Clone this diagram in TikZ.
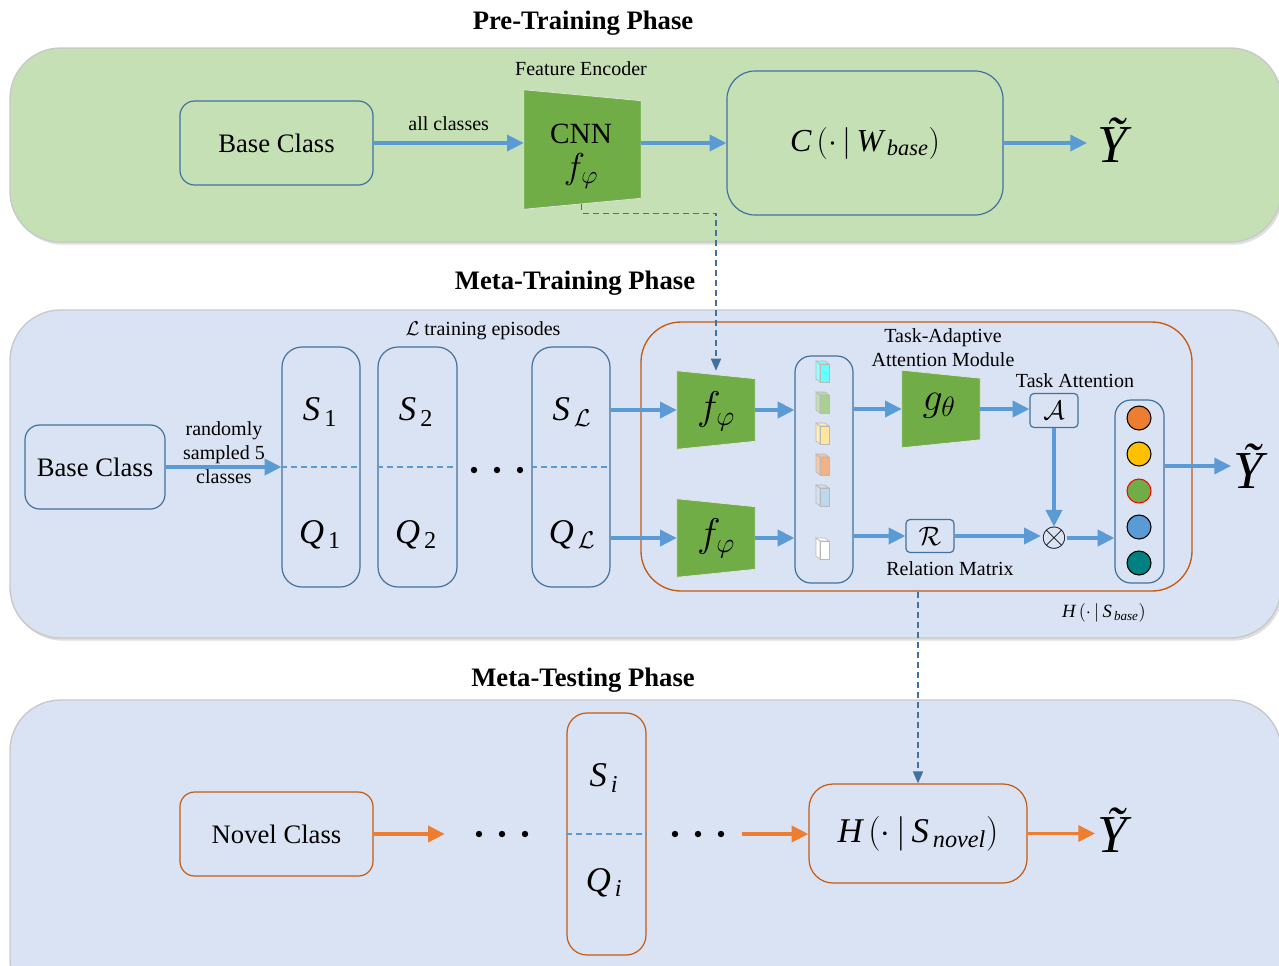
\RequirePackage{fix-cm}
\documentclass[tikz,border=0pt]{standalone}
\usepackage{fontspec}
\setmainfont{Liberation Serif}
\usetikzlibrary{arrows.meta,shadows,calc}

\definecolor{panelgreen}{HTML}{C5E0B4}
\definecolor{panelblue}{HTML}{DAE3F3}
\definecolor{panelline}{HTML}{C8C8C8}
\definecolor{boxblue}{HTML}{41719C}
\definecolor{flowblue}{HTML}{5B9BD5}
\definecolor{encgreen}{HTML}{70AD47}
\definecolor{modorange}{HTML}{C55A11}
\definecolor{floworange}{HTML}{ED7D31}
\definecolor{cubecyan}{HTML}{66FFFF}
\definecolor{cubegreen}{HTML}{A9D18E}
\definecolor{cubeyellow}{HTML}{FFE699}
\definecolor{cubeorange}{HTML}{F4B183}
\definecolor{cubeblue}{HTML}{BDD7EE}
\definecolor{dotorange}{HTML}{ED7D31}
\definecolor{dotyellow}{HTML}{FFC000}
\definecolor{dotgreen}{HTML}{70AD47}
\definecolor{dotblue}{HTML}{5B9BD5}
\definecolor{dotteal}{HTML}{008080}

\tikzset{
  px/.style 2 args={minimum width=#1*0.75pt, minimum height=#2*0.75pt, inner sep=0pt},
  panel/.style={draw=panelline, line width=1pt, rounded corners=38pt,
    drop shadow={opacity=0.25, shadow xshift=1.5pt, shadow yshift=-2pt}},
  bluebox/.style={draw=boxblue, line width=0.9pt, rounded corners=11pt},
  orangebox/.style={draw=modorange, line width=0.9pt, rounded corners=11pt},
  arr/.style={draw=flowblue, line width=2.6pt, -{Triangle[length=12.5pt,width=12pt]}},
  oarr/.style={draw=floworange, line width=2.6pt, -{Triangle[length=12.5pt,width=12pt]}},
  darr/.style={draw=boxblue, line width=1.1pt, dash pattern=on 4.5pt off 3pt,
    -{Triangle[length=9pt,width=7.5pt]}},
  sep/.style={draw=flowblue, line width=0.9pt, dash pattern=on 4.5pt off 3pt},
  lbl/.style={font=\fontsize{15}{18}\selectfont, align=center, inner sep=0pt},
  big/.style={font=\fontsize{20}{24}\selectfont},
  phase/.style={font=\fontsize{20}{24}\selectfont\bfseries},
  mv/.style={font=\fontsize{26}{30}\selectfont, inner sep=0pt},
  fv/.style={font=\fontsize{30}{32}\selectfont, inner sep=0pt},
  ytil/.style={font=\fontsize{40}{42}\selectfont\itshape, inner sep=0pt},
  dotrow/.style={px={10}{10}},
  score/.style={circle, draw=black, line width=0.8pt, minimum size=18pt, inner sep=0pt}
}

% trapezoidal encoder block over an empty node: right side is shorter by #2 at both ends
\newcommand\encshape[2]{%
  \fill[encgreen, draw=white!80!gray, line width=0.5pt]
    (#1.north west) -- ($(#1.north east)+(0,#2)$) -- ($(#1.south east)-(0,#2)$)
    -- (#1.south west) -- cycle;}
% small feature block drawn as a 3-D cuboid
\newcommand\featcube[3]{%
  \begin{scope}[shift={(#1,#2)}]
    \filldraw[fill=#3!70!white, draw=gray!55, line width=0.5pt]
      (-7,-11) -- (-3,-8) -- (-3,10) -- (-7,7) -- cycle;
    \filldraw[fill=#3!80!white, draw=gray!55, line width=0.5pt]
      (-7,-11) -- (2,-11) -- (6,-8) -- (-3,-8) -- cycle;
    \filldraw[fill=#3, draw=gray!55, line width=0.5pt]
      (-3,-8) rectangle (6,10);
  \end{scope}}

\begin{document}
\begin{tikzpicture}[x=0.75pt, y=-0.75pt]

\useasboundingbox (0,0) rectangle (1279,965);
\clip (0,0) rectangle (1279,965);
\fill[white] (0,0) rectangle (1279,965);

% ---------- phase panels ----------
\path[panel, fill=panelgreen] (10,48) rectangle (1281,242);
\path[panel, fill=panelblue] (10,310) rectangle (1281,638);
\path[panel, fill=panelblue] (10,700) rectangle (1281,1010);

\node[phase] (ptitle) at (583,23) {Pre-Training Phase};
\node[phase] (mtitle) at (575,283) {Meta-Training Phase};
\node[phase] (ttitle) at (583,680) {Meta-Testing Phase};

% ---------- pre-training ----------
\node[bluebox, fill=panelgreen, px={193}{84}, big] (base1) at (276.5,143) {Base Class};
\node[px={117}{119}] (cnn) at (582.5,149.5) {};
\encshape{cnn}{11}
\node[font=\fontsize{22}{24}\selectfont, inner sep=0pt] (cnntxt) at (581,134) {CNN};
\node[font=\fontsize{27}{28}\selectfont, inner sep=0pt] (cnnf) at (581,171) {$f_{\varphi}$};
\node[lbl] (fenc) at (581,69) {Feature Encoder};
\node[bluebox, fill=panelgreen, px={276}{144}, rounded corners=21pt,
      font=\fontsize{24}{28}\selectfont] (cbox) at (865,143)
      {$\mathit{C}\,(\cdot\,|\,\mathit{W}_{\,\mathit{base}})$};
\node[ytil, anchor=west] (y1) at (1097,140) {Ỹ};

\draw[arr] (base1.east) -- node[lbl, above=8pt] (allc) {all classes} (base1.east -| cnn.west);
\draw[arr] (cbox.west -| cnn.east) -- (cbox.west);
\draw[arr] (cbox.east) -- ([xshift=-7.5pt]cbox.east -| y1.west);

% ---------- meta-training ----------
\node[bluebox, fill=panelblue, px={140}{84}, big] (base2) at (95,467) {Base Class};
\node[lbl] (sampled) at (224,453) {randomly\\sampled 5\\classes};

\node[bluebox, px={78}{240}, rounded corners=15pt] (ep1) at (321,467) {};
\node[bluebox, px={79}{240}, rounded corners=15pt] (ep2) at (417.5,467) {};
\node[bluebox, px={78}{240}, rounded corners=15pt] (epL) at (571,467) {};
\draw[sep] (ep1.west) -- (ep1.east);
\draw[sep] (ep2.west) -- (ep2.east);
\draw[sep] (epL.west) -- (epL.east);
\draw[arr] (base2.east) -- (ep1.west);

\node[mv] (s1) at (320,412) {$\mathit{S}_{\,\mathrm{1}}$};
\node[mv] (q1) at (320,535) {$\mathit{Q}_{\,\mathrm{1}}$};
\node[mv] (s2) at (416,412) {$\mathit{S}_{\,\mathrm{2}}$};
\node[mv] (q2) at (416,535) {$\mathit{Q}_{\,\mathrm{2}}$};
\node[mv] (sL) at (572,412) {$\mathit{S}_{\,\mathcal{L}}$};
\node[mv] (qL) at (572,535) {$\mathit{Q}_{\,\mathcal{L}}$};
\node[dotrow] (dots1) at (497,470) {};
\foreach \dx in {-23,0,23} \fill ($(dots1.center)+(\dx,0)$) circle (2.4pt);
\node[lbl] (episodes) at (483,331) {$\mathcal{L}$ training episodes};

% task-adaptive attention module
\node[draw=modorange, line width=1pt, rounded corners=30pt, px={551}{269}] (tam) at (916.5,456.5) {};
\node[lbl] (tamlbl) at (943,348) {Task-Adaptive\\Attention Module};

\node[px={78}{78}] (f1) at (716,410) {};
\encshape{f1}{8}
\node[fv] (f1txt) at (716,411) {$f_{\varphi}$};
\node[px={78}{78}] (f2) at (716,538) {};
\encshape{f2}{8}
\node[fv] (f2txt) at (716,538) {$f_{\varphi}$};

\draw[arr] (f1.west -| epL.east) -- (f1.west);
\draw[arr] (f2.west -| epL.east) -- (f2.west);

\node[bluebox, px={58}{227}, rounded corners=12pt] (feat) at (824,469.5) {};
\featcube{823}{372}{cubecyan}
\featcube{823}{403}{cubegreen}
\featcube{823}{434}{cubeyellow}
\featcube{823}{465}{cubeorange}
\featcube{823}{496}{cubeblue}
\featcube{823}{549}{white}
\draw[arr] (f1.east) -- (f1.east -| feat.west);
\draw[arr] (f2.east) -- (f2.east -| feat.west);

\node[px={78}{77}] (g) at (941,409) {};
\encshape{g}{8}
\node[fv] (gtxt) at (939,406) {$g_{\theta}$};
\draw[arr] (g.west -| feat.east) -- (g.west);

\node[bluebox, rounded corners=3pt, px={48}{34}, font=\fontsize{20}{22}\selectfont] (A) at (1054,410.5) {$\mathcal{A}$};
\node[lbl] (talbl) at (1075,381) {Task Attention};
\draw[arr] (g.east) -- (g.east -| A.west);

\node[bluebox, rounded corners=3pt, px={48}{33}, font=\fontsize{20}{22}\selectfont] (R) at (930,536) {$\mathcal{R}$};
\node[lbl] (rmlbl) at (950,569) {Relation Matrix};
\draw[arr] (R.west -| feat.east) -- (R.west);

\node[font=\fontsize{25}{26}\selectfont, inner sep=0pt] (ot) at (1054,538) {$\otimes$};
\draw[arr] (R.east) -- (R.east -| ot.west);
\draw[arr] (A.south) -- (ot.north);

\node[bluebox, px={49}{183}, rounded corners=12pt] (cls) at (1139.5,491.5) {};
\node[score, fill=dotorange] (c1) at (1139,418) {};
\node[score, fill=dotyellow] (c2) at (1139,454) {};
\node[score, fill=dotgreen, draw=red] (c3) at (1139,491) {};
\node[score, fill=dotblue] (c4) at (1139,527) {};
\node[score, fill=dotteal] (c5) at (1139,563) {};
\draw[arr] (ot.east) -- (ot.east -| cls.west);

\node[ytil, anchor=west] (y2) at (1233,466) {Ỹ};
\draw[arr] (y2.west -| cls.east) -- ([xshift=-1.5pt]y2.west);

\node[font=\fontsize{14}{16}\selectfont, inner sep=0pt] (hbase) at (1104,613)
  {$\mathit{H}\,(\cdot\,|\,\mathit{S}_{\,\mathit{base}})$};

% ---------- meta-testing ----------
\node[orangebox, fill=panelblue, px={193}{84}, big] (novel) at (276.5,834) {Novel Class};
\node[px={114}{10}] (dots2) at (502,834) {};
\foreach \dx in {-23,0,23} \fill ($(dots2.center)+(\dx,0)$) circle (2.4pt);

\node[orangebox, px={79}{242}, rounded corners=15pt] (epi) at (606.5,834) {};
\draw[sep] (epi.west) -- (epi.east);
\node[mv] (si) at (604,778) {$\mathit{S}_{\,\mathit{i}}$};
\node[mv] (qi) at (604,883) {$\mathit{Q}_{\,\mathit{i}}$};

\node[px={88}{10}] (dots3) at (698,834) {};
\foreach \dx in {-23,0,23} \fill ($(dots3.center)+(\dx,0)$) circle (2.4pt);

\node[orangebox, px={218}{99}, rounded corners=18pt, font=\fontsize{26}{30}\selectfont] (hbox) at (918,833.5)
  {$\mathit{H}\,(\cdot\,|\,\mathit{S}_{\,\mathit{novel}})$};
\node[ytil, anchor=west] (y3) at (1097,830) {Ỹ};

\draw[oarr] (novel.east) -- (dots2.west);
\draw[oarr] (dots3.east) -- (dots3.east -| hbox.west);
\draw[oarr] (hbox.east) -- ([xshift=-1.5pt]hbox.east -| y3.west);

% ---------- parameter transfer ----------
\draw[darr] ($(cnn.south)+(-1,-5)$) -- ++(0,9) -| (f1.north);
\draw[darr] (tam.south -| hbox.north) -- (hbox.north);

\end{tikzpicture}
\end{document}
